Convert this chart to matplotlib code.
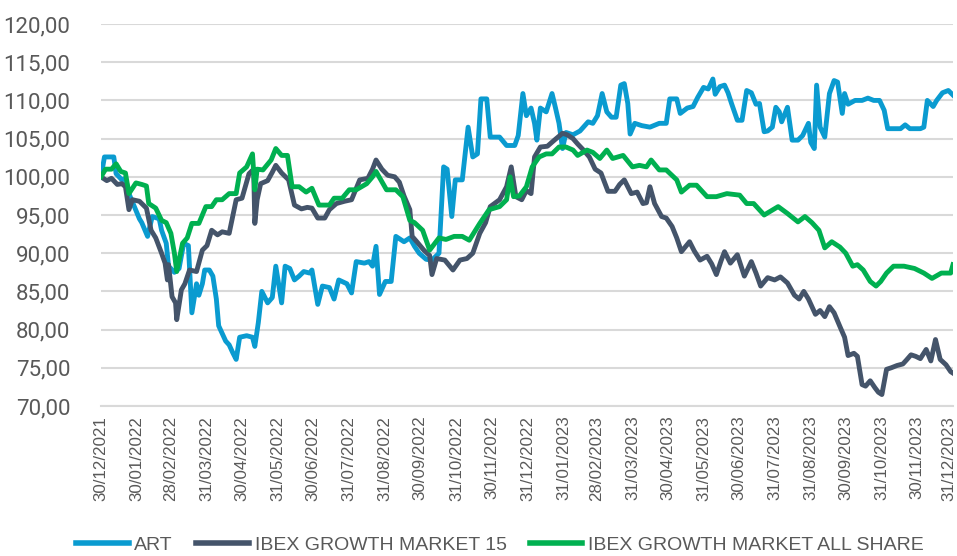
import matplotlib
matplotlib.use("Agg")
import matplotlib.pyplot as plt
import matplotlib.dates as mdates
from matplotlib import font_manager
from matplotlib.ticker import FuncFormatter
from matplotlib.transforms import ScaledTranslation
import pandas as pd

# ART
art_dates = ["2021-12-30", "2022-01-02", "2022-01-10", "2022-01-12", "2022-01-17", "2022-01-20",
             "2022-01-23", "2022-01-29", "2022-02-01", "2022-02-03", "2022-02-08", "2022-02-12",
             "2022-02-18", "2022-02-20", "2022-02-24", "2022-02-26", "2022-03-03", "2022-03-07",
             "2022-03-11", "2022-03-15", "2022-03-18", "2022-03-22", "2022-03-24", "2022-03-27",
             "2022-03-29", "2022-04-02", "2022-04-05", "2022-04-08", "2022-04-10", "2022-04-16",
             "2022-04-19", "2022-04-22", "2022-04-25", "2022-04-28", "2022-05-04", "2022-05-09",
             "2022-05-11", "2022-05-14", "2022-05-17", "2022-05-22", "2022-05-26", "2022-05-29",
             "2022-06-03", "2022-06-06", "2022-06-10", "2022-06-14", "2022-06-18", "2022-06-22",
             "2022-06-27", "2022-06-29", "2022-07-04", "2022-07-08", "2022-07-14", "2022-07-18",
             "2022-07-22", "2022-07-29", "2022-08-02", "2022-08-06", "2022-08-13", "2022-08-17",
             "2022-08-20", "2022-08-23", "2022-08-26", "2022-08-31", "2022-09-05", "2022-09-09",
             "2022-09-16", "2022-09-21", "2022-09-25", "2022-09-29", "2022-10-05", "2022-10-10",
             "2022-10-16", "2022-10-20", "2022-10-23", "2022-10-27", "2022-10-30", "2022-11-05",
             "2022-11-10", "2022-11-14", "2022-11-18", "2022-11-21", "2022-11-26", "2022-11-29",
             "2022-12-07", "2022-12-13", "2022-12-20", "2022-12-23", "2022-12-27", "2022-12-30",
             "2023-01-03", "2023-01-06", "2023-01-08", "2023-01-11", "2023-01-16", "2023-01-21",
             "2023-01-24", "2023-01-27", "2023-01-30", "2023-02-02", "2023-02-08", "2023-02-14",
             "2023-02-21", "2023-02-25", "2023-03-01", "2023-03-05", "2023-03-09", "2023-03-13",
             "2023-03-17", "2023-03-21", "2023-03-24", "2023-03-27", "2023-03-29", "2023-04-02",
             "2023-04-08", "2023-04-15", "2023-04-23", "2023-04-29", "2023-05-02", "2023-05-08",
             "2023-05-11", "2023-05-17", "2023-05-22", "2023-05-26", "2023-05-31", "2023-06-04",
             "2023-06-08", "2023-06-10", "2023-06-14", "2023-06-18", "2023-06-21", "2023-06-24",
             "2023-06-29", "2023-07-03", "2023-07-07", "2023-07-11", "2023-07-15", "2023-07-18",
             "2023-07-22", "2023-07-25", "2023-07-29", "2023-08-01", "2023-08-04", "2023-08-06",
             "2023-08-11", "2023-08-15", "2023-08-20", "2023-08-24", "2023-08-29", "2023-08-31",
             "2023-09-03", "2023-09-05", "2023-09-08", "2023-09-12", "2023-09-16", "2023-09-20",
             "2023-09-23", "2023-09-27", "2023-09-29", "2023-10-02", "2023-10-08", "2023-10-14",
             "2023-10-19", "2023-10-24", "2023-10-29", "2023-11-02", "2023-11-05", "2023-11-16",
             "2023-11-20", "2023-11-24", "2023-12-03", "2023-12-06", "2023-12-09", "2023-12-14",
             "2023-12-17", "2023-12-22", "2023-12-27", "2023-12-31"]
art = [100.0, 102.6, 102.6, 100.4, 99.6, 99.8,
       97.8, 95.6, 94.5, 94.0, 92.2, 94.8,
       94.5, 93.0, 91.3, 88.3, 87.5, 88.0,
       91.3, 91.0, 82.2, 86.0, 84.5, 86.0,
       87.8, 87.8, 87.0, 84.0, 80.5, 78.5,
       78.0, 77.0, 76.1, 79.0, 79.2, 79.0,
       77.8, 80.9, 85.0, 83.5, 84.2, 88.3,
       83.5, 88.3, 88.0, 86.5, 87.0, 87.6,
       87.4, 87.8, 83.3, 85.7, 85.5, 84.0,
       86.5, 86.0, 84.8, 88.9, 88.7, 88.9,
       88.3, 90.9, 84.6, 86.3, 86.3, 92.2,
       91.5, 92.0, 90.9, 90.0, 89.2, 89.1,
       90.0, 101.3, 101.0, 94.8, 99.6, 99.6,
       106.5, 102.6, 103.0, 110.2, 110.2, 105.2,
       105.2, 104.1, 104.1, 105.4, 110.9, 108.0,
       109.0, 107.0, 104.8, 109.0, 108.5, 110.9,
       109.0, 107.0, 103.7, 105.8, 105.5, 106.0,
       107.2, 107.0, 108.0, 110.9, 108.5, 107.8,
       107.8, 112.0, 112.2, 109.6, 105.6, 107.0,
       106.7, 106.5, 107.0, 107.0, 110.2, 110.2,
       108.3, 109.0, 109.2, 110.4, 111.7, 111.5,
       112.8, 110.8, 111.8, 112.0, 111.0, 109.6,
       107.4, 107.4, 111.3, 111.0, 109.5, 109.6,
       105.9, 106.0, 106.5, 109.1, 108.5, 107.2,
       109.1, 104.8, 104.8, 105.4, 107.0, 104.5,
       103.7, 112.0, 106.5, 105.2, 110.9, 112.6,
       112.4, 108.3, 110.9, 109.5, 110.0, 110.0,
       110.3, 110.0, 110.0, 108.7, 106.3, 106.3,
       106.8, 106.3, 106.3, 106.5, 110.0, 109.2,
       110.0, 111.0, 111.3, 110.7]

# IBEX GROWTH MARKET 15
gm15_dates = ["2021-12-30", "2022-01-04", "2022-01-08", "2022-01-13", "2022-01-17", "2022-01-20",
              "2022-01-23", "2022-01-26", "2022-02-01", "2022-02-07", "2022-02-11", "2022-02-15",
              "2022-02-20", "2022-02-23", "2022-02-25", "2022-02-26", "2022-03-01", "2022-03-04",
              "2022-03-05", "2022-03-09", "2022-03-12", "2022-03-16", "2022-03-22", "2022-03-27",
              "2022-03-31", "2022-04-04", "2022-04-09", "2022-04-13", "2022-04-19", "2022-04-25",
              "2022-04-30", "2022-05-06", "2022-05-10", "2022-05-11", "2022-05-13", "2022-05-16",
              "2022-05-22", "2022-05-26", "2022-05-29", "2022-06-03", "2022-06-09", "2022-06-14",
              "2022-06-20", "2022-06-25", "2022-06-29", "2022-07-04", "2022-07-10", "2022-07-14",
              "2022-07-20", "2022-07-27", "2022-08-02", "2022-08-09", "2022-08-16", "2022-08-20",
              "2022-08-23", "2022-08-28", "2022-09-02", "2022-09-08", "2022-09-12", "2022-09-16",
              "2022-09-21", "2022-09-23", "2022-09-27", "2022-10-03", "2022-10-08", "2022-10-10",
              "2022-10-14", "2022-10-21", "2022-10-28", "2022-11-03", "2022-11-09", "2022-11-14",
              "2022-11-20", "2022-11-25", "2022-11-29", "2022-12-07", "2022-12-13", "2022-12-17",
              "2022-12-21", "2022-12-26", "2022-12-30", "2023-01-03", "2023-01-06", "2023-01-11",
              "2023-01-17", "2023-01-23", "2023-01-30", "2023-02-03", "2023-02-08", "2023-02-12",
              "2023-02-17", "2023-02-22", "2023-02-27", "2023-03-04", "2023-03-10", "2023-03-16",
              "2023-03-20", "2023-03-24", "2023-03-30", "2023-04-04", "2023-04-09", "2023-04-12",
              "2023-04-15", "2023-04-19", "2023-04-25", "2023-04-29", "2023-05-04", "2023-05-08",
              "2023-05-12", "2023-05-19", "2023-05-23", "2023-05-28", "2023-06-03", "2023-06-07",
              "2023-06-11", "2023-06-15", "2023-06-18", "2023-06-23", "2023-06-29", "2023-07-05",
              "2023-07-11", "2023-07-15", "2023-07-19", "2023-07-25", "2023-07-31", "2023-08-05",
              "2023-08-11", "2023-08-17", "2023-08-21", "2023-08-25", "2023-08-29", "2023-09-04",
              "2023-09-08", "2023-09-12", "2023-09-16", "2023-09-20", "2023-09-25", "2023-09-29",
              "2023-10-02", "2023-10-07", "2023-10-10", "2023-10-14", "2023-10-17", "2023-10-21",
              "2023-10-25", "2023-10-28", "2023-10-31", "2023-11-04", "2023-11-08", "2023-11-13",
              "2023-11-18", "2023-11-21", "2023-11-25", "2023-11-29", "2023-12-03", "2023-12-08",
              "2023-12-12", "2023-12-16", "2023-12-20", "2023-12-25", "2023-12-29", "2023-12-31"]
gm15 = [100.0, 99.5, 99.8, 99.0, 99.1, 98.7,
        95.7, 97.0, 96.8, 95.9, 93.0, 92.0,
        90.0, 88.7, 86.5, 88.5, 84.3, 83.5,
        81.3, 85.2, 86.0, 87.8, 87.6, 90.4,
        91.0, 93.0, 92.4, 92.8, 92.6, 97.0,
        97.2, 100.4, 101.0, 93.9, 97.0, 99.1,
        99.5, 100.6, 101.5, 100.5, 99.6, 96.3,
        95.8, 96.0, 95.9, 94.6, 94.6, 95.7,
        96.5, 96.8, 97.0, 99.6, 99.8, 101.0,
        102.2, 101.0, 100.2, 100.0, 99.3, 97.5,
        95.7, 92.2, 91.5, 90.4, 89.7, 87.2,
        89.3, 89.1, 87.8, 89.1, 89.3, 90.0,
        92.6, 94.0, 96.1, 97.0, 98.7, 101.3,
        97.4, 97.0, 98.2, 97.8, 102.6, 103.9,
        104.0, 104.8, 105.7, 105.5, 105.0, 104.3,
        103.5, 102.6, 101.0, 100.5, 98.1, 98.1,
        99.0, 99.6, 97.8, 98.0, 96.5, 96.6,
        98.7, 96.5, 94.8, 94.6, 93.5, 92.0,
        90.2, 91.5, 90.3, 89.1, 89.6, 88.6,
        87.2, 89.0, 90.2, 88.7, 89.8, 87.0,
        88.9, 87.4, 85.7, 86.8, 86.5, 86.9,
        86.1, 84.5, 84.0, 85.0, 84.0, 82.0,
        82.5, 81.7, 83.0, 82.2, 80.4, 79.0,
        76.6, 76.9, 76.5, 72.8, 72.6, 73.3,
        72.4, 71.8, 71.5, 74.8, 75.0, 75.3,
        75.5, 76.0, 76.7, 76.5, 76.2, 77.4,
        75.9, 78.7, 76.1, 75.4, 74.5, 74.3]

# IBEX GROWTH MARKET ALL SHARE
all_dates = ["2021-12-30", "2022-01-03", "2022-01-08", "2022-01-12", "2022-01-16", "2022-01-20",
             "2022-01-23", "2022-01-29", "2022-02-03", "2022-02-07", "2022-02-09", "2022-02-15",
             "2022-02-20", "2022-02-24", "2022-02-28", "2022-03-03", "2022-03-05", "2022-03-10",
             "2022-03-14", "2022-03-18", "2022-03-24", "2022-03-30", "2022-04-04", "2022-04-08",
             "2022-04-13", "2022-04-19", "2022-04-25", "2022-04-28", "2022-05-04", "2022-05-09",
             "2022-05-11", "2022-05-13", "2022-05-18", "2022-05-25", "2022-05-29", "2022-06-03",
             "2022-06-08", "2022-06-12", "2022-06-18", "2022-06-24", "2022-06-29", "2022-07-05",
             "2022-07-14", "2022-07-18", "2022-07-25", "2022-07-31", "2022-08-06", "2022-08-15",
             "2022-08-20", "2022-08-23", "2022-09-01", "2022-09-09", "2022-09-15", "2022-09-21",
             "2022-09-25", "2022-10-02", "2022-10-08", "2022-10-10", "2022-10-16", "2022-10-22",
             "2022-10-29", "2022-11-05", "2022-11-11", "2022-11-20", "2022-11-28", "2022-12-07",
             "2022-12-13", "2022-12-16", "2022-12-19", "2022-12-24", "2022-12-30", "2023-01-04",
             "2023-01-10", "2023-01-16", "2023-01-21", "2023-01-27", "2023-02-02", "2023-02-08",
             "2023-02-12", "2023-02-20", "2023-02-25", "2023-03-03", "2023-03-09", "2023-03-14",
             "2023-03-23", "2023-03-31", "2023-04-06", "2023-04-12", "2023-04-16", "2023-04-23",
             "2023-04-29", "2023-05-08", "2023-05-12", "2023-05-19", "2023-05-25", "2023-06-03",
             "2023-06-11", "2023-06-20", "2023-07-01", "2023-07-07", "2023-07-13", "2023-07-22",
             "2023-08-03", "2023-08-11", "2023-08-20", "2023-08-26", "2023-09-01", "2023-09-07",
             "2023-09-12", "2023-09-18", "2023-09-25", "2023-09-30", "2023-10-06", "2023-10-10",
             "2023-10-15", "2023-10-21", "2023-10-26", "2023-10-30", "2023-11-04", "2023-11-10",
             "2023-11-19", "2023-11-28", "2023-12-06", "2023-12-13", "2023-12-21", "2023-12-29",
             "2023-12-31"]
all_share = [100.0, 101.0, 101.0, 101.7, 100.7, 100.5,
             97.8, 99.2, 99.0, 98.8, 96.5, 95.9,
             94.3, 94.0, 92.6, 90.0, 87.6, 91.3,
             92.0, 93.9, 93.9, 96.1, 96.1, 97.0,
             97.0, 97.8, 97.8, 100.5, 101.3, 103.0,
             98.3, 101.0, 100.9, 102.2, 103.7, 102.8,
             102.8, 98.7, 98.7, 98.0, 98.5, 96.3,
             96.3, 97.2, 97.2, 98.3, 98.3, 99.1,
             100.0, 100.7, 98.3, 98.3, 97.4, 94.3,
             94.0, 93.0, 90.4, 90.8, 92.0, 91.8,
             92.2, 92.2, 91.7, 93.9, 95.7, 96.1,
             97.0, 100.0, 97.4, 97.5, 98.7, 101.3,
             102.6, 103.0, 103.0, 103.9, 103.9, 103.5,
             102.8, 103.5, 103.2, 102.4, 103.5, 102.4,
             102.8, 101.3, 101.5, 101.3, 102.2, 100.9,
             100.9, 99.6, 98.0, 98.9, 98.9, 97.4,
             97.4, 97.8, 97.6, 96.5, 96.5, 95.0,
             96.1, 95.2, 94.1, 94.8, 94.0, 93.0,
             90.7, 91.5, 90.8, 90.0, 88.3, 88.5,
             87.8, 86.3, 85.7, 86.3, 87.4, 88.3,
             88.3, 88.0, 87.4, 86.7, 87.4, 87.4,
             88.5]

tick_dates = ["2021-12-30", "2022-01-30", "2022-02-28", "2022-03-31", "2022-04-30", "2022-05-31",
              "2022-06-30", "2022-07-31", "2022-08-31", "2022-09-30", "2022-10-31", "2022-11-30",
              "2022-12-31", "2023-01-31", "2023-02-28", "2023-03-31", "2023-04-30", "2023-05-31",
              "2023-06-30", "2023-07-31", "2023-08-31", "2023-09-30", "2023-10-31", "2023-11-30",
              "2023-12-31"]

c_art = "#0A9BD0"
c_gm15 = "#44546A"
c_all = "#00B050"
c_text = "#595959"
c_grid = "#D9D9D9"

names = {f.name for f in font_manager.fontManager.ttflist}
if "Liberation Sans Narrow" in names:
    narrow, xsize, legsize = "Liberation Sans Narrow", 15, 17
else:
    narrow, xsize, legsize = "Liberation Sans", 12.2, 14

fig = plt.figure(figsize=(9.57, 5.56), dpi=100)
ax = fig.add_axes([0.1055, 0.2698, 0.8903, 0.687])

lw = 3.5
ax.plot(pd.to_datetime(art_dates), art, color=c_art, lw=lw, solid_joinstyle="round", label="ART", zorder=2)
ax.plot(pd.to_datetime(gm15_dates), gm15, color=c_gm15, lw=lw, solid_joinstyle="round",
        label="IBEX GROWTH MARKET 15", zorder=3)
ax.plot(pd.to_datetime(all_dates), all_share, color=c_all, lw=lw, solid_joinstyle="round",
        label="IBEX GROWTH MARKET ALL SHARE", zorder=4)

ax.set_ylim(70, 120)
ax.set_yticks(range(70, 121, 5))
ax.yaxis.set_major_formatter(FuncFormatter(lambda v, p: f"{v:.2f}".replace(".", ",")))
ax.set_xlim(pd.Timestamp(tick_dates[0]), pd.Timestamp(tick_dates[-1]))
ax.set_xticks(pd.to_datetime(tick_dates))
ax.xaxis.set_major_formatter(mdates.DateFormatter("%d/%m/%Y"))

ax.grid(axis="y", color=c_grid, lw=1.5, zorder=0)
ax.set_axisbelow(True)
for s in ["top", "right", "left"]:
    ax.spines[s].set_visible(False)
ax.spines["bottom"].set_color(c_grid)
ax.spines["bottom"].set_linewidth(1.5)
ax.tick_params(axis="both", length=0)
ax.tick_params(axis="y", pad=22)
ax.tick_params(axis="x", pad=7)

for lbl in ax.get_yticklabels():
    lbl.set_fontfamily("Roboto")
    lbl.set_fontsize(16)
    lbl.set_color(c_text)
xlabels = ax.get_xticklabels()
for lbl in xlabels:
    lbl.set_fontfamily(narrow)
    lbl.set_fontsize(xsize)
    lbl.set_color(c_text)
    lbl.set_rotation(90)
# keep the last date label inside the canvas
xlabels[-1].set_transform(xlabels[-1].get_transform() + ScaledTranslation(-4 / 100, 0, fig.dpi_scale_trans))

leg = fig.legend(loc="center", bbox_to_anchor=(0.5225, 0.02), ncol=3, frameon=False,
                 handlelength=2.7, handletextpad=0.3, columnspacing=1.2,
                 prop={"family": narrow, "size": legsize})
for t in leg.get_texts():
    t.set_color(c_text)
for h in leg.get_lines():
    h.set_linewidth(4)

fig.savefig("out.png", dpi=100)
